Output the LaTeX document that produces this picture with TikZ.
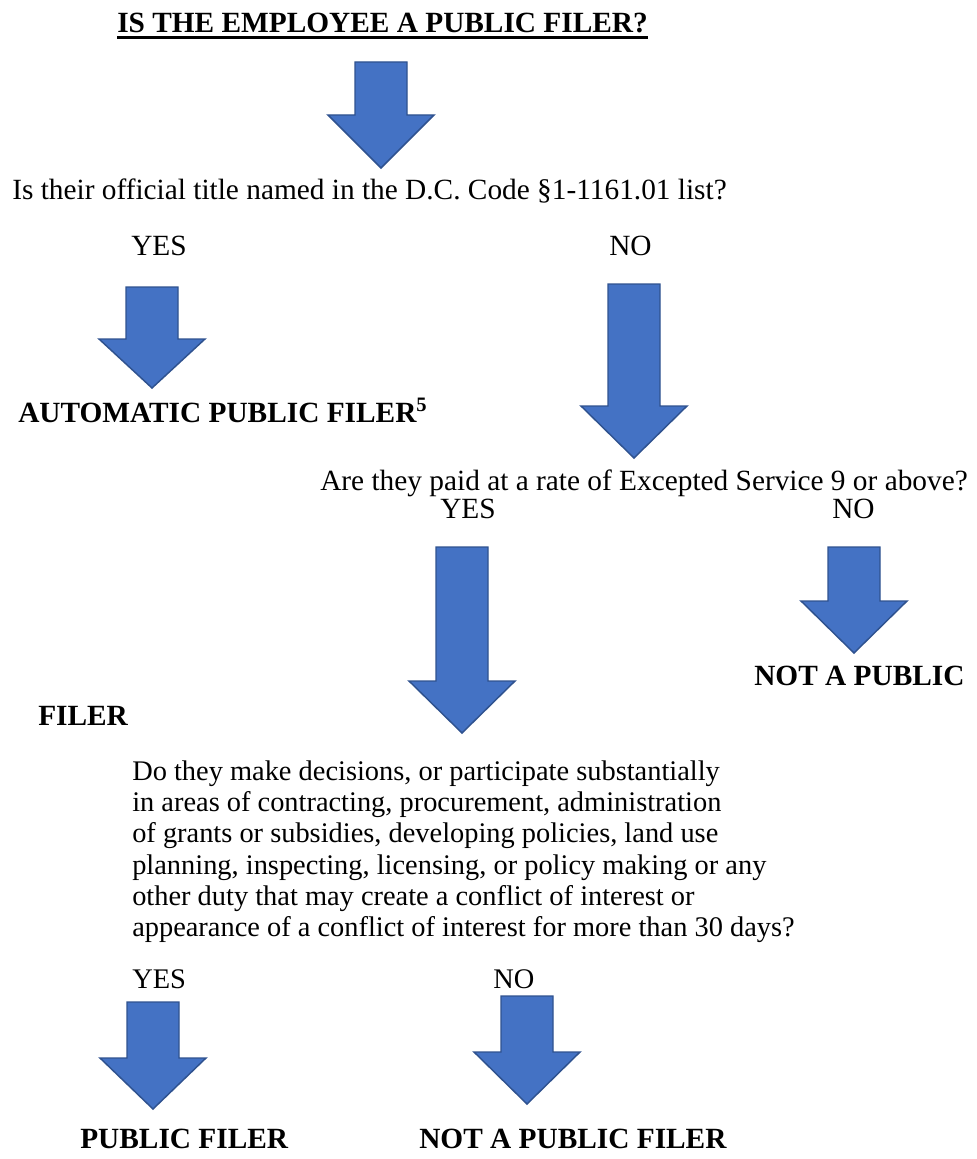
\documentclass[tikz,border=0pt]{standalone}
\usepackage{fontspec}
\setmainfont{Liberation Serif}
\definecolor{arrowfill}{HTML}{4472C4}
\definecolor{arrowedge}{HTML}{2F528F}
\newcommand{\blockarrow}[4]{% cx, top, heady, tip
  \filldraw[barrowstyle] (#1-26,#2) -- (#1+26,#2) -- (#1+26,#3) -- (#1+53,#3) -- (#1,#4) -- (#1-53,#3) -- (#1-26,#3) -- cycle;}
\begin{document}
\begin{tikzpicture}[x=0.75pt,y=-0.75pt,
  barrowstyle/.style={fill=arrowfill,draw=arrowedge,line width=1.1pt,line join=miter},
  txt/.style={anchor=base west,inner sep=0pt,font=\fontsize{22}{26}\selectfont},
  ptxt/.style={anchor=base west,inner sep=0pt,font=\fontsize{21.3}{25}\selectfont},
  btxt/.style={txt,font=\fontsize{22}{26}\selectfont\bfseries}]
\useasboundingbox (0,0) rectangle (977,1159);
\node[btxt] (title) at (117,33) {IS THE EMPLOYEE A PUBLIC FILER?};
\draw[line width=2.2pt] ([yshift=-3.4pt]title.base west) -- ([yshift=-3.4pt]title.base east);
\blockarrow{381}{62}{115}{168}
\node[txt] (q1) at (12,199) {Is their official title named in the D.C. Code §1-1161.01 list?};
\node[txt] (yes1) at (131,255) {YES};
\node[txt] (no1) at (609,255) {NO};
\blockarrow{152}{287}{339}{388}
\blockarrow{634}{284}{406}{458}
\node[btxt] (auto) at (18,422) {AUTOMATIC PUBLIC FILER\textsuperscript{5}};
\node[txt] (q2) at (320,490) {Are they paid at a rate of Excepted Service 9 or above?};
\node[txt] (yes2) at (440,518) {YES};
\node[txt] (no2) at (832,518) {NO};
\blockarrow{462}{547}{681}{733}
\blockarrow{854}{547}{601}{653}
\node[btxt] (notpub1) at (754,685) {NOT A PUBLIC};
\node[btxt] (filer1) at (38,725) {FILER};
\node[ptxt] (p1) at (132,780) {Do they make decisions, or participate substantially};
\node[ptxt] (p2) at (132,811) {in areas of contracting, procurement, administration};
\node[ptxt] (p3) at (132,842) {of grants or subsidies, developing policies, land use};
\node[ptxt] (p4) at (132,874) {planning, inspecting, licensing, or policy making or any};
\node[ptxt] (p5) at (132,905) {other duty that may create a conflict of interest or};
\node[ptxt] (p6) at (132,936) {appearance of a conflict of interest for more than 30 days?};
\node[ptxt] (yes3) at (132,988) {YES};
\node[ptxt] (no3) at (493,988) {NO};
\blockarrow{153}{1002}{1058}{1109}
\blockarrow{527}{996}{1052}{1104}
\node[btxt] (pub) at (80,1148) {PUBLIC FILER};
\node[btxt] (notpub2) at (419,1148) {NOT A PUBLIC FILER};
\end{tikzpicture}
\end{document}
